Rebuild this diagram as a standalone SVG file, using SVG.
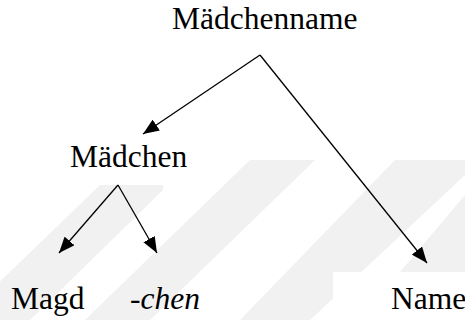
<svg xmlns="http://www.w3.org/2000/svg" width="465" height="320" viewBox="0 0 465 320">
  <style>
    text { font-family: 'Liberation Serif', 'DejaVu Serif', serif; font-size: 31.5px; fill: #000; }
    .it { font-style: italic; }
    .edge { stroke: #000; stroke-width: 1.3; fill: none; }
    .band { fill: #f1f1f1; }
  </style>
  <defs>
    <marker id="arrow" markerUnits="userSpaceOnUse" markerWidth="17" markerHeight="13" refX="16" refY="6.5" orient="auto">
      <path d="M0,0 L16,6.5 L0,13 z" fill="#000"/>
    </marker>
  </defs>

  <rect width="465" height="320" fill="#fff"/>

  <!-- faint diagonal background bands -->
  <g id="backdrop">
    <polygon class="band" points="100,185 163,185 163,190 30,320 -40,320"/>
    <polygon class="band" points="250,160 315,160 150,320 85,320"/>
    <polygon class="band" points="395,160 465,160 465,175 310,320 240,320"/>
    <polygon class="band" points="465,195 465,272 400,272"/>
    <rect x="333" y="272" width="132" height="48" fill="#fff"/>
  </g>

  <g id="connectors">
    <line class="edge" x1="260" y1="55" x2="143" y2="134" marker-end="url(#arrow)"/>
    <line class="edge" x1="260" y1="55" x2="427" y2="263" marker-end="url(#arrow)"/>
    <line class="edge" x1="118" y1="185" x2="59" y2="253" marker-end="url(#arrow)"/>
    <line class="edge" x1="118" y1="185" x2="157" y2="253" marker-end="url(#arrow)"/>
  </g>

  <g id="n-maedchenname"><text x="172" y="28.5">Mädchenname</text></g>
  <g id="n-maedchen"><text x="70" y="167">Mädchen</text></g>
  <g id="n-magd"><text x="11" y="309">Magd</text></g>
  <g id="n-chen"><text class="it" x="130" y="309">-chen</text></g>
  <g id="n-name"><text x="391" y="309">Name</text></g>
</svg>
